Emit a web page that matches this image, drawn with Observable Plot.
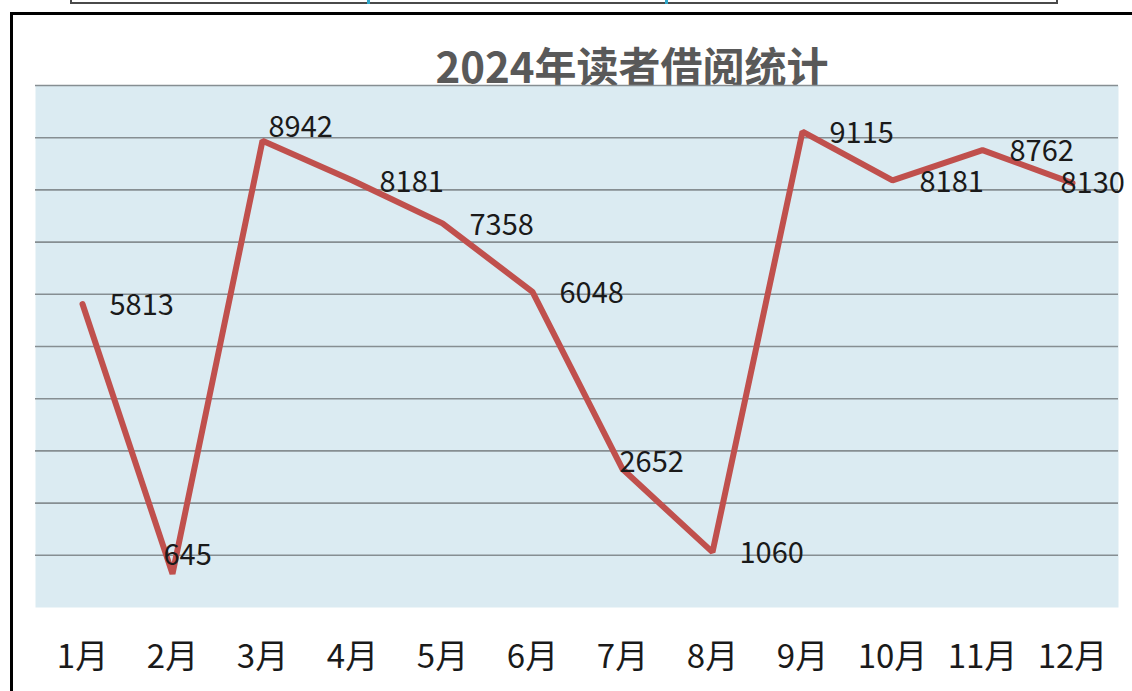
<!DOCTYPE html>
<html>
<head>
<meta charset="utf-8">
<script src="https://cdn.jsdelivr.net/npm/d3@7"></script>
<script src="https://cdn.jsdelivr.net/npm/@observablehq/plot@0.6"></script>
<style>
  html, body { margin: 0; padding: 0; background: #fff; overflow: hidden; }
  body { width: 1132px; height: 691px; position: relative; font-family: "Noto Sans CJK SC", "Noto Sans", sans-serif; }
  #topbox { position: absolute; left: 70px; top: -20px; width: 984px; height: 20px; border: 2px solid #4a4a4a; box-sizing: content-box; }
  .tick { position: absolute; top: 0; width: 3px; height: 4px; background: #2fa6c8; }
  #frame { position: absolute; left: 10px; top: 12px; width: 1200px; height: 800px; border: 3px solid #000; }
  #title { position: absolute; left: 0; width: 1264px; top: 40px; text-align: center; font-size: 42px; font-weight: bold; color: #595959; line-height: 50px; }
  #chart { position: absolute; left: 0; top: 80px; }
</style>
</head>
<body>
<div id="topbox"></div>
<div class="tick" style="left:367px"></div>
<div class="tick" style="left:665px"></div>
<div id="frame"></div>
<div id="title">2024年读者借阅统计</div>
<div id="chart"></div>
<script>
const months = ["1月","2月","3月","4月","5月","6月","7月","8月","9月","10月","11月","12月"];
const values = [5813, 645, 8942, 8181, 7358, 6048, 2652, 1060, 9115, 8181, 8762, 8130];
const gridTicks = [1000, 2000, 3000, 4000, 5000, 6000, 7000, 8000, 9000, 10000];

const data = months.map((m, i) => ({month: m, value: values[i]}));
const special = new Set(["2月", "3月", "7月", "12月"]);

const labelFont = "Noto Sans CJK SC, Noto Sans, sans-serif";
const labelSize = 29;

const plot = Plot.plot({
  width: 1132,
  height: 611,
  marginLeft: 35,
  marginRight: 14,
  marginTop: 5,
  marginBottom: 84,
  style: {background: "transparent", fontFamily: labelFont, overflow: "visible"},
  x: {type: "point", domain: months, padding: 0.5, align: 0.5, label: null},
  y: {domain: [0, 10000], label: null},
  marks: [
    Plot.frame({fill: "#dbebf2", stroke: null}),
    Plot.ruleY(gridTicks, {stroke: "#868e92", strokeWidth: 1.6}),
    Plot.line(data, {x: "month", y: "value", stroke: "#c0504d", strokeWidth: 6, strokeLinejoin: "miter"}),
    Plot.text(data.filter(d => !special.has(d.month)), {x: "month", y: "value", text: d => String(d.value), textAnchor: "start", dx: 27, dy: 2, fontSize: labelSize, fill: "#1a1a1a"}),
    Plot.text(data.filter(d => d.month === "2月"), {x: "month", y: "value", text: d => String(d.value), textAnchor: "start", dx: -9, dy: -18, fontSize: labelSize, fill: "#1a1a1a"}),
    Plot.text(data.filter(d => d.month === "3月"), {x: "month", y: "value", text: d => String(d.value), textAnchor: "start", dx: 6, dy: -13, fontSize: labelSize, fill: "#1a1a1a"}),
    Plot.text(data.filter(d => d.month === "7月"), {x: "month", y: "value", text: d => String(d.value), textAnchor: "start", dx: -3, dy: -6, fontSize: labelSize, fill: "#1a1a1a"}),
    Plot.text(data.filter(d => d.month === "12月"), {x: "month", y: "value", text: d => String(d.value), textAnchor: "start", dx: -12, dy: 1, fontSize: labelSize, fill: "#1a1a1a"}),
    Plot.axisX({tickSize: 0, tickPadding: 37, fontSize: 33, color: "#1a1a1a", label: null}),
    Plot.axisY({ticks: []})
  ]
});
document.getElementById("chart").appendChild(plot);
</script>
</body>
</html>
